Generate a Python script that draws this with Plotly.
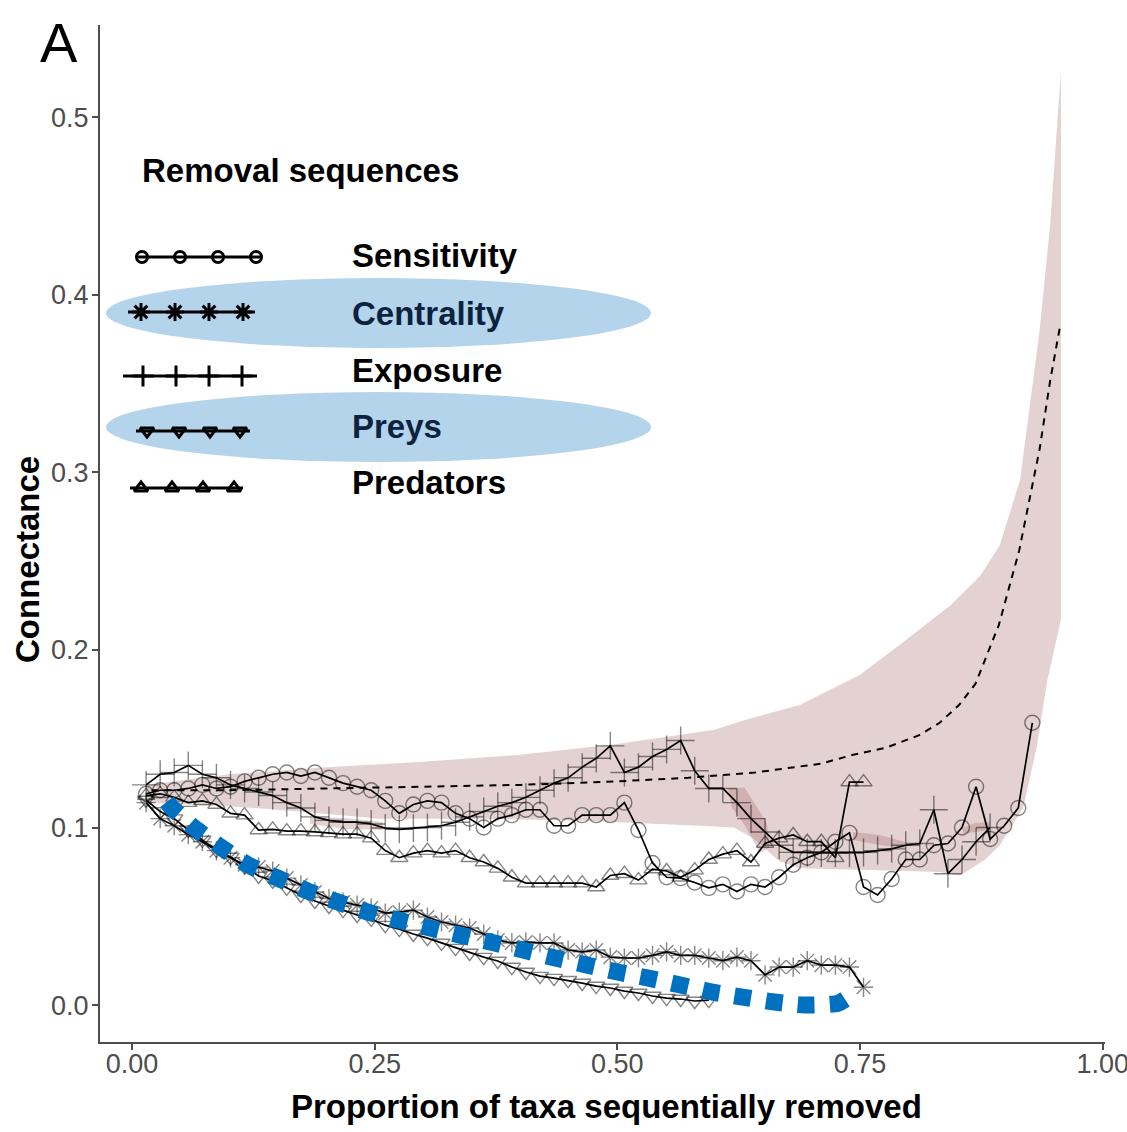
import plotly.graph_objects as go

# ---------------- data ----------------
N_TAXA = 69  # markers are spaced 1/69 of the x range apart

sensitivity = [0.119, 0.121, 0.121, 0.122, 0.124, 0.122, 0.123, 0.126, 0.128, 0.130,
               0.131, 0.129, 0.131, 0.128, 0.125, 0.123, 0.121, 0.115, 0.108, 0.113,
               0.115, 0.114, 0.108, 0.105, 0.100, 0.105, 0.107, 0.110, 0.110, 0.101,
               0.101, 0.107, 0.107, 0.107, 0.114, 0.0986, 0.080, 0.072, 0.0715, 0.069,
               0.066, 0.068, 0.064, 0.068, 0.0665, 0.072, 0.079, 0.083, 0.086, 0.092,
               0.097, 0.0665, 0.062, 0.071, 0.082, 0.082, 0.090, 0.091, 0.100, 0.123,
               0.0935, 0.101, 0.111, 0.159]

exposure = [0.124, 0.130, 0.131, 0.135, 0.130, 0.128, 0.124, 0.122, 0.120, 0.118,
            0.114, 0.111, 0.106, 0.104, 0.103, 0.103, 0.102, 0.0997, 0.099, 0.0997,
            0.100, 0.101, 0.103, 0.106, 0.109, 0.112, 0.114, 0.117, 0.121, 0.125,
            0.128, 0.134, 0.139, 0.146, 0.131, 0.134, 0.140, 0.144, 0.149, 0.132,
            0.122, 0.122, 0.114, 0.105, 0.0975, 0.090, 0.086, 0.086, 0.0856, 0.0856,
            0.0856, 0.086, 0.087, 0.088, 0.090, 0.091, 0.110, 0.074, 0.082, 0.092, 0.100]

predators = [0.118, 0.119, 0.117, 0.114, 0.115, 0.113, 0.108, 0.107, 0.0986, 0.099,
             0.098, 0.098, 0.0975, 0.097, 0.0963, 0.0963, 0.094, 0.087, 0.083, 0.0856,
             0.087, 0.0856, 0.087, 0.083, 0.0806, 0.077, 0.072, 0.0687, 0.0687, 0.0687,
             0.0687, 0.0687, 0.0665, 0.073, 0.074, 0.0704, 0.0766, 0.0755, 0.072, 0.076,
             0.082, 0.085, 0.087, 0.0806, 0.091, 0.094, 0.0958, 0.092, 0.092, 0.083,
             0.1256, 0.1256]

centrality = [0.114, 0.105, 0.101, 0.096, 0.092, 0.087, 0.083, 0.079, 0.0777, 0.0755,
              0.0715, 0.0676, 0.0637, 0.060, 0.058, 0.0563, 0.0546, 0.0518, 0.0524, 0.0535,
              0.0496, 0.0468, 0.045, 0.0434, 0.040, 0.0366, 0.035, 0.0355, 0.035, 0.035,
              0.031, 0.030, 0.031, 0.027, 0.0265, 0.0265, 0.028, 0.030, 0.028, 0.028,
              0.0265, 0.025, 0.027, 0.025, 0.017, 0.0214, 0.0214, 0.025, 0.0225, 0.0225,
              0.0214, 0.010]

preys = [0.1155, 0.109, 0.105, 0.0986, 0.093, 0.0873, 0.0834, 0.078, 0.0727, 0.070,
         0.066, 0.062, 0.0586, 0.0558, 0.0535, 0.0507, 0.0485, 0.045, 0.0428, 0.040,
         0.0377, 0.035, 0.0321, 0.0293, 0.027, 0.0248, 0.0214, 0.0186, 0.0163, 0.0152,
         0.014, 0.0124, 0.0107, 0.0096, 0.0079, 0.0068, 0.0051, 0.0039, 0.0034, 0.0023,
         0.0028]

# random-removal mean (dashed) and its envelope (ribbon)
mean_x = [0.02, 0.1, 0.2, 0.3, 0.4, 0.5, 0.573, 0.642, 0.71, 0.743, 0.777, 0.811,
          0.832, 0.852, 0.869, 0.893, 0.914, 0.935, 0.946, 0.956]
mean_y = [0.121, 0.121, 0.122, 0.123, 0.124, 0.126, 0.128, 0.131, 0.136, 0.141, 0.145,
          0.152, 0.159, 0.169, 0.181, 0.214, 0.256, 0.313, 0.352, 0.382]

ribbon_upper_x = [0.014, 0.1, 0.2, 0.3, 0.4, 0.5, 0.6, 0.634, 0.688, 0.75, 0.791, 0.843,
                  0.874, 0.894, 0.915, 0.935, 0.946, 0.957]
ribbon_upper = [0.124, 0.130, 0.134, 0.137, 0.141, 0.147, 0.155, 0.161, 0.169, 0.186,
                0.203, 0.225, 0.242, 0.259, 0.296, 0.38, 0.44, 0.526]
ribbon_lower_x = [0.014, 0.1, 0.173, 0.255, 0.358, 0.46, 0.585, 0.620, 0.640, 0.667,
                  0.688, 0.77, 0.832, 0.853, 0.879, 0.894, 0.918, 0.932, 0.943, 0.957]
ribbon_lower = [0.114, 0.112, 0.109, 0.105, 0.105, 0.104, 0.101, 0.100, 0.094, 0.081,
                0.077, 0.076, 0.075, 0.073, 0.082, 0.090, 0.111, 0.145, 0.183, 0.217]

# overlapping (darker) pieces of the envelope
overlap_x = [0.1834, 0.2194, 0.2586, 0.2586, 0.2194, 0.1834, None,
             0.614, 0.631, 0.654, 0.657, 0.647, 0.631, 0.618, None,
             0.7428, 0.7706, 0.7963, 0.7963, 0.7706, 0.7428, None,
             0.856, 0.8685, 0.8839, 0.8839, 0.8685, 0.856]
overlap_y = [0.1059, 0.1054, 0.1031, 0.0986, 0.0992, 0.102, None,
             0.122, 0.1225, 0.1025, 0.0890, 0.0856, 0.1014, 0.1112, None,
             0.0975, 0.0958, 0.0918, 0.0885, 0.0901, 0.093, None,
             0.0997, 0.1025, 0.1031, 0.0986, 0.0975, 0.0963]

# hand-drawn blue highlight
highlight_x = [0.036, 0.0412, 0.067, 0.0927, 0.1195, 0.150, 0.181, 0.212, 0.243, 0.274,
               0.307, 0.338, 0.369, 0.403, 0.436, 0.469, 0.500, 0.532, 0.565, 0.598,
               0.629, 0.662, 0.693, 0.727, 0.738]
highlight_y = [0.1145, 0.111, 0.0986, 0.0885, 0.0789, 0.0715, 0.0642, 0.058, 0.0524, 0.0479,
               0.0434, 0.0394, 0.0355, 0.031, 0.0265, 0.0225, 0.0186, 0.0152, 0.0113, 0.0073,
               0.0045, 0.0017, 0.0, 0.001, 0.0045]

legend_labels = ["Sensitivity", "Centrality", "Exposure", "Preys", "Predators"]
x_ticks = [0, 0.25, 0.5, 0.75, 1.0]
x_ticktext = ["0.00", "0.25", "0.50", "0.75", "1.00"]
y_ticks = [0, 0.1, 0.2, 0.3, 0.4, 0.5]
y_ticktext = ["0.0", "0.1", "0.2", "0.3", "0.4", "0.5"]


def prop(values):
    return [k / N_TAXA for k in range(1, len(values) + 1)]


# ---------------- layout constants ----------------
W, H = 1127, 1132
ML, MR, MT, MB = 100, 22, 25, 90
XR = [-0.033, 1.0024]
YR = [-0.0208, 0.552]
FONT = "Liberation Sans, Arial, sans-serif"
AXC = "#4d4d4d"
MK = "rgba(0,0,0,0.48)"


def paper_x(px):
    return (px - ML) / (W - ML - MR)


def paper_y(py):
    return (H - MB - py) / (H - MB - MT)


fig = go.Figure()

# envelope
fig.add_trace(go.Scatter(
    x=ribbon_upper_x + ribbon_lower_x[::-1],
    y=ribbon_upper + ribbon_lower[::-1],
    fill="toself", fillcolor="rgba(150,80,80,0.26)", mode="lines",
    line=dict(width=0), hoverinfo="skip", showlegend=False))
fig.add_trace(go.Scatter(
    x=overlap_x, y=overlap_y, fill="toself", fillcolor="rgba(150,80,80,0.26)",
    mode="lines", line=dict(width=0), hoverinfo="skip", showlegend=False))
# mean
fig.add_trace(go.Scatter(
    x=mean_x, y=mean_y, mode="lines",
    line=dict(color="black", width=2, dash="7px,6px"), showlegend=False))

series = [
    (sensitivity, "circle-open", 15),
    (exposure, "cross-thin-open", 20),
    (predators, "triangle-up-open", 15),
    (centrality, "asterisk-open", 16),
    (preys, "triangle-down-open", 15),
]
for vals, sym, size in series:
    fig.add_trace(go.Scatter(
        x=prop(vals), y=vals, mode="lines+markers",
        line=dict(color="black", width=1.7),
        marker=dict(symbol=sym, size=size, color=MK, line=dict(color=MK, width=1.4)),
        showlegend=False))

# blue highlight
fig.add_trace(go.Scatter(
    x=highlight_x, y=highlight_y, mode="lines",
    line=dict(color="#0070c0", width=17, dash="17px,15px", shape="spline", smoothing=0.6),
    showlegend=False))

# ---------------- hand-made legend (pixel overlay axes) ----------------
legend_rows = [
    # text y, glyph y, glyph x0, x1, marker xs, symbol, marker size, text color
    (255, 257, 136, 261, [142, 180, 218, 256], "circle-open", 11, "black"),
    (313, 312, 128, 255, [141, 175, 209, 243], "asterisk-open", 15, "#0c2340"),
    (370, 376, 123, 257, [143, 176, 209, 242], "cross-thin-open", 15, "black"),
    (426, 431, 136, 250, [147, 179, 210, 240], "triangle-down-open", 12, "#0c2340"),
    (482, 488, 130, 243, [141, 172, 203, 234], "triangle-up-open", 12, "black"),
]

shapes = []
for cy in (313, 427):
    shapes.append(dict(type="circle", xref="x2", yref="y2", x0=106, x1=651,
                       y0=cy - 35, y1=cy + 35, fillcolor="#b4d4ec",
                       line=dict(width=0), layer="below"))

annotations = []
for (ty, gy, x0, x1, mxs, sym, msz, tcol), name in zip(legend_rows, legend_labels):
    fig.add_trace(go.Scatter(
        x=[x0, x1], y=[gy, gy], mode="lines", xaxis="x2", yaxis="y2",
        line=dict(color="black", width=3), showlegend=False, hoverinfo="skip"))
    fig.add_trace(go.Scatter(
        x=mxs, y=[gy] * len(mxs), mode="markers", xaxis="x2", yaxis="y2",
        marker=dict(symbol=sym, size=msz, color="black", line=dict(color="black", width=3)),
        showlegend=False, hoverinfo="skip"))
    annotations.append(dict(xref="x2", yref="y2", x=350, y=ty, text="<b>%s</b>" % name,
                            showarrow=False, xanchor="left", yanchor="middle",
                            font=dict(family=FONT, size=33, color=tcol)))

annotations.append(dict(xref="x2", yref="y2", x=140, y=170, text="<b>Removal sequences</b>",
                        showarrow=False, xanchor="left", yanchor="middle",
                        font=dict(family=FONT, size=33, color="black")))

# panel letter and axis titles
annotations.append(dict(xref="paper", yref="paper", x=paper_x(59), y=paper_y(42), text="A",
                        showarrow=False, xanchor="center", yanchor="middle",
                        font=dict(family=FONT, size=56, color="black")))
annotations.append(dict(xref="paper", yref="paper", x=paper_x(606), y=paper_y(1106),
                        text="<b>Proportion of taxa sequentially removed</b>",
                        showarrow=False, xanchor="center", yanchor="middle",
                        font=dict(family=FONT, size=33, color="black")))
annotations.append(dict(xref="paper", yref="paper", x=paper_x(27), y=paper_y(560),
                        text="<b>Connectance</b>", textangle=-90,
                        showarrow=False, xanchor="center", yanchor="middle",
                        font=dict(family=FONT, size=33, color="black")))

fig.update_layout(
    width=W, height=H,
    margin=dict(l=ML, r=MR, t=MT, b=MB, autoexpand=False),
    paper_bgcolor="white", plot_bgcolor="white",
    showlegend=False,
    font=dict(family=FONT),
    xaxis=dict(range=XR, tickvals=x_ticks, ticktext=x_ticktext, automargin=False,
               showgrid=False, zeroline=False, showline=True, linecolor=AXC, linewidth=2,
               ticks="outside", ticklen=6, tickwidth=2, tickcolor=AXC,
               ticklabelstandoff=-9, ticklabeloverflow="allow",
               tickfont=dict(family=FONT, size=27, color=AXC)),
    yaxis=dict(range=YR, tickvals=y_ticks, ticktext=y_ticktext, automargin=False,
               showgrid=False, zeroline=False, showline=True, linecolor=AXC, linewidth=2,
               ticks="outside", ticklen=6, tickwidth=2, tickcolor=AXC,
               ticklabelstandoff=-2,
               tickfont=dict(family=FONT, size=27, color=AXC)),
    xaxis2=dict(range=[ML, W - MR], overlaying="x", anchor="y2", visible=False),
    yaxis2=dict(range=[H - MB, MT], overlaying="y", anchor="x2", visible=False),
    shapes=shapes,
    annotations=annotations,
)

fig.write_html("out.html")
